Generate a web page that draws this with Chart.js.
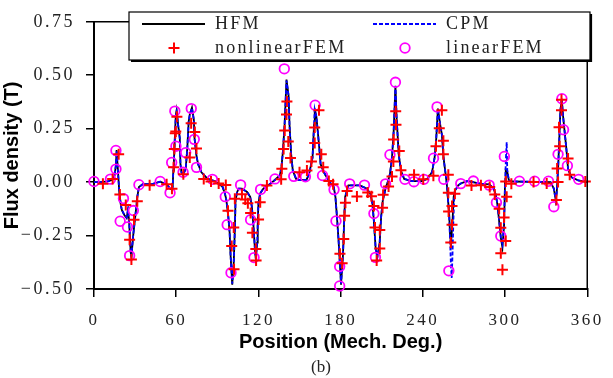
<!DOCTYPE html>
<html lang="en">
<head>
    <meta charset="UTF-8">
    <title>Flux density vs position</title>
    <script src="https://cdn.jsdelivr.net/npm/chart.js"></script>
    <style>
        body {
            margin: 0;
            background: #fff;
        }
        canvas {
            display: block;
        }
    </style>
</head>
<body>
    <canvas id="fluxChart" width="613" height="378"></canvas>

    <script>
        // HFM trace (solid black)
        const hfmDeg = [0, 5, 10, 13, 15, 16, 16.5, 17.5, 18.5, 19.6, 20.3, 22, 23.8, 24.8, 25.6, 26.8, 27.3, 28.7, 30.4, 31.6,
            32.8, 35.6, 42, 48.3, 53, 55.5, 56.8, 57.4, 57.9, 58.3, 59, 59.7, 60.3, 61.4, 62.6, 63.1, 63.8, 65, 66.9, 67.4,
            68.1, 69.1, 70, 71.5, 72.9, 73.3, 74.8, 76, 78.4, 83, 88, 93.7, 95.6, 96.6, 98, 99, 99.7, 100.9, 102, 102.8,
            103.3, 104.5, 105.6, 108, 111.7, 114, 115.2, 116.4, 117.6, 118.1, 119.1, 119.5, 120, 121.2, 123.6, 127.2, 132, 135.6, 136.8, 137.9,
            139.1, 140.5, 142, 142.7, 143.9, 145.1, 147.5, 150, 155, 157, 159.5, 160.6, 161.1, 162.3, 163, 164.2, 165.4, 167.8, 171.4, 175,
            176.2, 177.3, 178.6, 180.3, 181.7, 182.7, 183.3, 185.7, 194, 198.9, 201.7, 203.2, 204.2, 205.6, 206.8, 208.5, 209.6, 210.8, 212, 212.7,
            214.4, 216, 217.5, 218.7, 220, 220.9, 222.4, 224, 226.4, 231.8, 239, 243.1, 246.7, 248.6, 249.8, 251, 252.7, 253.9, 255.1, 256.3,
            257.5, 258.2, 259.2, 259.9, 260.6, 261.6, 262.5, 263.4, 265.8, 268, 272.7, 282.6, 288.5, 291.7, 293.3, 294.5, 295.7, 296.9, 298.1, 299.3,
            300, 300.5, 301.7, 302.8, 305, 333.2, 335.6, 337, 337.7, 338.7, 339.4, 340.4, 341.4, 342.4, 343.6, 344.8, 346, 348.4, 353.4, 360];
        const hfmFlux = [0, 0, 0.003, 0.01, 0.03, 0.08, 0.15, 0.05, -0.05, -0.107, -0.13, -0.153, -0.168, -0.13, -0.18, -0.33, -0.35, -0.243, -0.145, -0.069,
            -0.023, -0.01, -0.01, 0.002, -0.01, -0.03, -0.035, -0.023, 0.054, 0.092, 0.206, 0.313, 0.336, 0.268, 0.206, 0.084, 0.046, 0.035, 0.061, 0.1,
            0.16, 0.283, 0.32, 0.349, 0.29, 0.21, 0.122, 0.084, 0.046, 0.015, 0.005, -0.02, -0.054, -0.084, -0.16, -0.237, -0.344, -0.48, -0.375, -0.222,
            -0.084, -0.046, -0.03, -0.03, -0.046, -0.069, -0.115, -0.206, -0.329, -0.36, -0.283, -0.191, -0.1, -0.054, -0.03, -0.015, 0.01, 0.031, 0.069, 0.145,
            0.268, 0.48, 0.405, 0.268, 0.13, 0.054, 0.015, 0.01, 0.01, 0.038, 0.115, 0.268, 0.344, 0.306, 0.26, 0.176, 0.084, 0.046, 0.005, -0.023,
            -0.069, -0.16, -0.283, -0.48, -0.344, -0.16, -0.069, -0.015, -0.015, -0.03, -0.054, -0.1, -0.176, -0.313, -0.352, -0.283, -0.16, -0.084, -0.054, -0.03,
            0, 0.038, 0.115, 0.237, 0.451, 0.298, 0.13, 0.054, 0.015, 0.005, 0.005, 0.015, 0.046, 0.115, 0.206, 0.344, 0.268, 0.222, 0.115, 0.054,
            -0.008, -0.069, -0.145, -0.252, -0.283, -0.191, -0.069, -0.04, -0.015, -0.005, 0.005, -0.008, -0.01, -0.03, -0.061, -0.107, -0.183, -0.26, -0.306, -0.199,
            0, 0.054, 0.046, 0.008, 0.003, 0, -0.03, -0.084, -0.05, 0.061, 0.168, 0.336, 0.39, 0.306, 0.229, 0.153, 0.061, 0.023, 0.008, 0];

        // CPM trace (dashed blue)
        const cpmDeg = [0, 5, 10, 13, 15, 16, 16.5, 17.5, 18.5, 19.6, 20.3, 22, 23.8, 24.8, 25.6, 26.8, 27.3, 28.7, 30.4, 31.6,
            32.8, 35.6, 42, 48.3, 53, 55.5, 56.8, 57.4, 57.9, 58.3, 59, 59.7, 60.3, 61.4, 62.6, 63.1, 63.8, 65, 66.9, 67.4,
            68.1, 69.1, 70, 71.5, 72.9, 73.3, 74.8, 76, 78.4, 83, 88, 93.7, 95.6, 96.6, 98, 99, 99.7, 100.9, 102, 102.8,
            103.3, 104.5, 105.6, 108, 111.7, 114, 115.2, 116.4, 117.6, 118.1, 119.1, 119.5, 120, 121.2, 123.6, 127.2, 132, 135.6, 136.8, 137.9,
            139.1, 140.5, 142, 142.7, 143.9, 145.1, 147.5, 150, 155, 157, 159.5, 160.6, 161.1, 162.3, 163, 164.2, 165.4, 167.8, 171.4, 175,
            176.2, 177.3, 178.6, 180.3, 181.7, 182.7, 183.3, 185.7, 194, 198.9, 201.7, 203.2, 204.2, 205.6, 206.8, 208.5, 209.6, 210.8, 212, 212.7,
            214.4, 216, 217.5, 218.7, 220, 220.9, 222.4, 224, 226.4, 231.8, 239, 243.1, 246.7, 248.6, 249.8, 251, 252.7, 253.9, 255.1, 256.3,
            257.5, 258.2, 259.2, 259.9, 260.6, 261.1, 261.7, 262.3, 262.9, 263.6, 265.8, 268, 272.7, 282.6, 288.5, 291.7, 293.3, 294.5, 295.7, 296.9,
            298.1, 299.3, 300, 300.7, 301.2, 301.6, 302.8, 305, 333.2, 335.6, 337, 337.7, 338.7, 339.4, 340.4, 341.4, 342.4, 343.6, 344.8, 346,
            348.4, 353.4, 360];
        const cpmFlux = [0, 0, 0.003, 0.01, 0.03, 0.08, 0.145, 0.05, -0.05, -0.107, -0.13, -0.15, -0.165, -0.13, -0.18, -0.33, -0.345, -0.243, -0.145, -0.069,
            -0.023, -0.01, -0.01, 0.002, -0.01, -0.03, -0.035, -0.023, 0.054, 0.092, 0.206, 0.313, 0.33, 0.268, 0.206, 0.084, 0.046, 0.035, 0.061, 0.1,
            0.16, 0.283, 0.32, 0.345, 0.29, 0.21, 0.122, 0.084, 0.046, 0.015, 0.005, -0.02, -0.054, -0.084, -0.16, -0.237, -0.344, -0.475, -0.375, -0.222,
            -0.084, -0.046, -0.03, -0.03, -0.046, -0.069, -0.115, -0.206, -0.329, -0.355, -0.283, -0.191, -0.1, -0.054, -0.03, -0.015, 0.01, 0.031, 0.069, 0.145,
            0.268, 0.475, 0.405, 0.268, 0.13, 0.054, 0.015, 0.01, 0.01, 0.038, 0.115, 0.268, 0.34, 0.306, 0.26, 0.176, 0.084, 0.046, 0.005, -0.023,
            -0.069, -0.16, -0.283, -0.475, -0.344, -0.16, -0.069, -0.015, -0.015, -0.03, -0.054, -0.1, -0.176, -0.313, -0.35, -0.283, -0.16, -0.084, -0.054, -0.03,
            0, 0.038, 0.115, 0.237, 0.45, 0.298, 0.13, 0.054, 0.015, 0.005, 0.005, 0.015, 0.046, 0.115, 0.206, 0.344, 0.268, 0.222, 0.115, 0.054,
            -0.008, -0.069, -0.15, -0.28, -0.4, -0.448, -0.33, -0.18, -0.075, -0.04, -0.015, -0.005, 0.005, -0.008, -0.01, -0.03, -0.061, -0.107, -0.183, -0.255,
            -0.29, -0.19, -0.01, 0.12, 0.187, 0.06, 0.008, 0.003, 0, -0.03, -0.084, -0.05, 0.061, 0.168, 0.336, 0.385, 0.306, 0.229, 0.153, 0.061,
            0.023, 0.008, 0];

        // nonlinear FEM points (red +)
        const nlDeg = [6.5, 13.6, 18, 18.9, 23.2, 26, 27.3, 29.2, 31.6, 40.6, 53, 56.9, 58.1, 58.6, 59.3, 59.7, 60.5, 65.2, 69.9, 70.9,
            73.6, 74.8, 80.1, 85.4, 91, 96.2, 97.8, 100.5, 102, 102.2, 102.8, 108, 110.4, 112.3, 114.3, 115.6, 118.1, 118.3, 120.1, 121.3,
            126.2, 136.6, 137.1, 138.4, 139.2, 140.5, 140.8, 141.8, 143.4, 150, 155.4, 158.7, 161.1, 161.1, 164.2, 165.9, 167.3, 171.4, 174.5, 179.5,
            181.1, 182.3, 182.9, 183.5, 184.7, 191.9, 199.8, 202.5, 204.3, 205.1, 206.3, 208.6, 208.6, 210.6, 211, 215, 217.5, 218.5, 218.7, 220.2,
            220.4, 222.8, 224, 233.6, 240.3, 247.7, 249.6, 252, 253.9, 255, 255, 258.6, 258.6, 258.8, 260.4, 261.3, 261.3, 263.4, 275.5, 282.4,
            288.8, 292.5, 295.7, 296.9, 296.9, 298.1, 299.3, 300.5, 300.5, 301.2, 304.6, 320.8, 330.4, 337.5, 338, 338.7, 339.4, 339.9, 341.2, 341.2,
            346, 347.2, 358.6];
        const nlFlux = [-0.008, 0.015, 0.13, -0.058, -0.107, -0.27, -0.362, -0.176, -0.089, -0.015, -0.01, -0.031, 0.069, 0.155, 0.229, 0.237, 0.306, 0.037, 0.115, 0.275,
            0.235, 0.157, 0.015, 0.003, -0.006, -0.014, -0.134, -0.299, -0.212, -0.408, -0.078, -0.057, -0.081, -0.099, -0.145, -0.237, -0.313, -0.367, -0.175, -0.094,
            -0.016, 0.013, 0.062, 0.155, 0.242, 0.316, 0.377, 0.19, 0.113, 0.046, 0.054, 0.096, 0.183, 0.255, 0.336, 0.13, 0.069, 0.005, -0.01, -0.335,
            -0.38, -0.266, -0.157, -0.097, -0.042, -0.067, -0.048, -0.066, -0.112, -0.212, -0.367, -0.224, -0.31, -0.12, -0.059, -0.02, 0.026, 0.096, 0.199, 0.332,
            0.268, 0.145, 0.056, 0.034, 0.013, 0.03, 0.168, 0.252, 0.336, 0.194, 0.13, 0.035, -0.05, -0.137, -0.283, -0.112, -0.2, -0.054, -0.016, -0.015,
            -0.023, -0.058, -0.125, -0.214, -0.333, -0.41, -0.165, -0.275, 0.003, -0.069, -0.008, 0, -0.006, -0.084, 0.064, 0, 0.257, 0.168, 0.336, 0.385,
            0.11, 0.034, 0.003];

        // linear FEM points (magenta o)
        const linDeg = [0, 12, 16, 16, 19.1, 21.5, 24.4, 26, 28.7, 32.8, 48.3, 55.5, 56.7, 59, 59.8, 65, 66.9, 71, 73.2, 74.8,
            86.4, 95.8, 97.2, 100, 107, 114.3, 116.8, 121.6, 132.1, 138.9, 145.8, 154.3, 161.4, 166.8, 175.2, 176.6, 179.3, 179.3, 186.6, 197.4,
            204.3, 205.4, 212.8, 216, 220, 226.9, 233.5, 240.8, 247.8, 250.4, 255.3, 259, 267.7, 276.9, 288.4, 293.7, 296.9, 299.5, 310.5, 321.6,
            331.7, 335.6, 338.7, 341.5, 342.7, 345.5, 353.7];
        const linFlux = [0.003, 0.014, 0.148, 0.061, -0.183, -0.077, -0.21, -0.344, -0.133, -0.012, 0.003, -0.05, 0.092, 0.332, 0.168, 0.046, 0.138, 0.344, 0.2, 0.069,
            0.013, -0.068, -0.199, -0.424, -0.013, -0.176, -0.353, -0.034, 0.015, 0.53, 0.027, 0.025, 0.36, 0.031, -0.035, -0.182, -0.395, -0.486, -0.008, -0.014,
            -0.147, -0.352, -0.008, 0.128, 0.467, 0.013, 0.002, 0.013, 0.112, 0.352, 0.013, -0.415, -0.007, 0.005, -0.014, -0.095, -0.252, 0.12, 0.004, 0.004,
            0.004, -0.115, 0.13, 0.39, 0.245, 0.077, 0.013];

        const seriesNames = ["HFM", "CPM", "nonlinearFEM", "linearFEM"];
        const xTicks = [0, 60, 120, 180, 240, 300, 360];
        const yTicks = [-0.5, -0.25, 0, 0.25, 0.5, 0.75];

        function toPoints(xs, ys) {
            return xs.map((x, i) => ({ x: x, y: ys[i] }));
        }

        function formatFlux(v) {
            return (v < 0 ? "\u2212" : "") + Math.abs(v).toFixed(2);
        }

        const serifFont = "'Liberation Serif', 'Times New Roman', serif";
        const sansFont = "'Liberation Sans', Arial, sans-serif";

        // legend box and where each entry sits in it
        const legendBox = { left: 129, top: 12, right: 590, bottom: 60 };
        const legendSlots = [
            { x: 142, y: 24 },
            { x: 373, y: 24 },
            { x: 142, y: 48 },
            { x: 373, y: 48 }
        ];

        const boxLegend = {
            id: "boxLegend",
            afterDatasetsDraw(chart) {
                // tick labels (z = 1) get drawn after this, widen them a bit
                chart.ctx.letterSpacing = "2.5px";
            },
            afterDraw(chart) {
                const ctx = chart.ctx;
                const area = chart.chartArea;
                ctx.save();
                ctx.letterSpacing = "0px";

                // top and right edge of the plot frame
                ctx.strokeStyle = "#000";
                ctx.lineWidth = 1.5;
                ctx.beginPath();
                ctx.moveTo(area.left, area.top);
                ctx.lineTo(area.right, area.top);
                ctx.lineTo(area.right, area.bottom);
                ctx.stroke();

                // legend frame with a little drop edge
                const b = legendBox;
                ctx.fillStyle = "#fff";
                ctx.fillRect(b.left, b.top, b.right - b.left, b.bottom - b.top);
                ctx.lineWidth = 1.2;
                ctx.strokeRect(b.left, b.top, b.right - b.left, b.bottom - b.top);
                ctx.lineWidth = 2.2;
                ctx.beginPath();
                ctx.moveTo(b.right + 1, b.top + 2);
                ctx.lineTo(b.right + 1, b.bottom + 1);
                ctx.lineTo(b.left + 2, b.bottom + 1);
                ctx.stroke();

                chart.data.datasets.forEach((ds, i) => {
                    const slot = legendSlots[i];
                    if (ds.showLine) {
                        ctx.strokeStyle = ds.borderColor;
                        ctx.lineWidth = ds.borderWidth;
                        ctx.setLineDash(ds.borderDash || []);
                        ctx.beginPath();
                        ctx.moveTo(slot.x, slot.y);
                        ctx.lineTo(slot.x + 63, slot.y);
                        ctx.stroke();
                        ctx.setLineDash([]);
                    } else {
                        ctx.fillStyle = ds.backgroundColor;
                        ctx.strokeStyle = ds.borderColor;
                        ctx.lineWidth = ds.borderWidth;
                        Chart.helpers.drawPoint(ctx, {
                            pointStyle: ds.pointStyle,
                            radius: ds.pointRadius,
                            borderWidth: ds.borderWidth,
                            rotation: 0
                        }, slot.x + 32, slot.y);
                    }
                    ctx.fillStyle = "#222";
                    ctx.font = "18px " + serifFont;
                    ctx.letterSpacing = "2.2px";
                    ctx.textBaseline = "middle";
                    ctx.textAlign = "left";
                    ctx.fillText(ds.label, slot.x + 73, slot.y);
                    ctx.letterSpacing = "0px";
                });

                // panel caption
                ctx.fillStyle = "#222";
                ctx.font = "17px " + serifFont;
                ctx.textAlign = "center";
                ctx.textBaseline = "middle";
                ctx.fillText("(b)", 321, 368);
                ctx.restore();
                ctx.letterSpacing = "0px";
            }
        };

        const ctx = document.getElementById("fluxChart").getContext("2d");

        new Chart(ctx, {
            type: "scatter",
            data: {
                datasets: [
                    {
                        label: seriesNames[0],
                        data: toPoints(hfmDeg, hfmFlux),
                        showLine: true,
                        borderColor: "#000000",
                        borderWidth: 1.8,
                        pointRadius: 0,
                        tension: 0,
                        order: 4
                    },
                    {
                        label: seriesNames[1],
                        data: toPoints(cpmDeg, cpmFlux),
                        showLine: true,
                        borderColor: "#0000ff",
                        borderWidth: 1.8,
                        borderDash: [4, 2],
                        pointRadius: 0,
                        tension: 0,
                        order: 3
                    },
                    {
                        label: seriesNames[2],
                        data: toPoints(nlDeg, nlFlux),
                        showLine: false,
                        pointStyle: "cross",
                        pointRadius: 5.5,
                        borderColor: "#ff0000",
                        backgroundColor: "#ff0000",
                        borderWidth: 2,
                        clip: false,
                        order: 1
                    },
                    {
                        label: seriesNames[3],
                        data: toPoints(linDeg, linFlux),
                        showLine: false,
                        pointStyle: "circle",
                        pointRadius: 4.8,
                        borderColor: "#ff00ff",
                        backgroundColor: "rgba(0,0,0,0)",
                        borderWidth: 1.8,
                        clip: false,
                        order: 2
                    }
                ]
            },
            options: {
                responsive: false,
                animation: false,
                devicePixelRatio: 1,
                layout: {
                    padding: { top: 17, right: 17, left: 0, bottom: 0 }
                },
                plugins: {
                    legend: { display: false },
                    tooltip: { enabled: false }
                },
                scales: {
                    x: {
                        type: "linear",
                        min: 0,
                        max: 360,
                        afterBuildTicks: scale => {
                            scale.ticks = xTicks.map(v => ({ value: v }));
                        },
                        afterFit: scale => {
                            scale.height = 89;
                        },
                        grid: {
                            drawOnChartArea: false,
                            drawTicks: true,
                            tickLength: 8,
                            color: "#000",
                            lineWidth: 1.5
                        },
                        border: { display: true, color: "#000", width: 2 },
                        ticks: {
                            z: 1,
                            padding: 13,
                            color: "#222",
                            maxRotation: 0,
                            font: { family: serifFont, size: 17 }
                        },
                        title: {
                            display: true,
                            text: "Position (Mech. Deg.)",
                            color: "#000",
                            padding: { top: 0, bottom: 24 },
                            font: { family: sansFont, size: 20, weight: "bold" }
                        }
                    },
                    y: {
                        min: -0.5,
                        max: 0.75,
                        afterBuildTicks: scale => {
                            scale.ticks = yTicks.map(v => ({ value: v }));
                        },
                        afterFit: scale => {
                            scale.width = 94;
                        },
                        grid: {
                            drawOnChartArea: false,
                            drawTicks: true,
                            tickLength: 8,
                            color: "#000",
                            lineWidth: 1.5
                        },
                        border: { display: true, color: "#000", width: 2 },
                        ticks: {
                            z: 1,
                            padding: 11,
                            color: "#222",
                            font: { family: serifFont, size: 18 },
                            callback: v => formatFlux(v)
                        },
                        title: {
                            display: true,
                            text: "Flux density (T)",
                            color: "#000",
                            padding: { top: 0, bottom: 0 },
                            font: { family: sansFont, size: 20, weight: "bold" }
                        }
                    }
                }
            },
            plugins: [boxLegend]
        });
    </script>
</body>
</html>
